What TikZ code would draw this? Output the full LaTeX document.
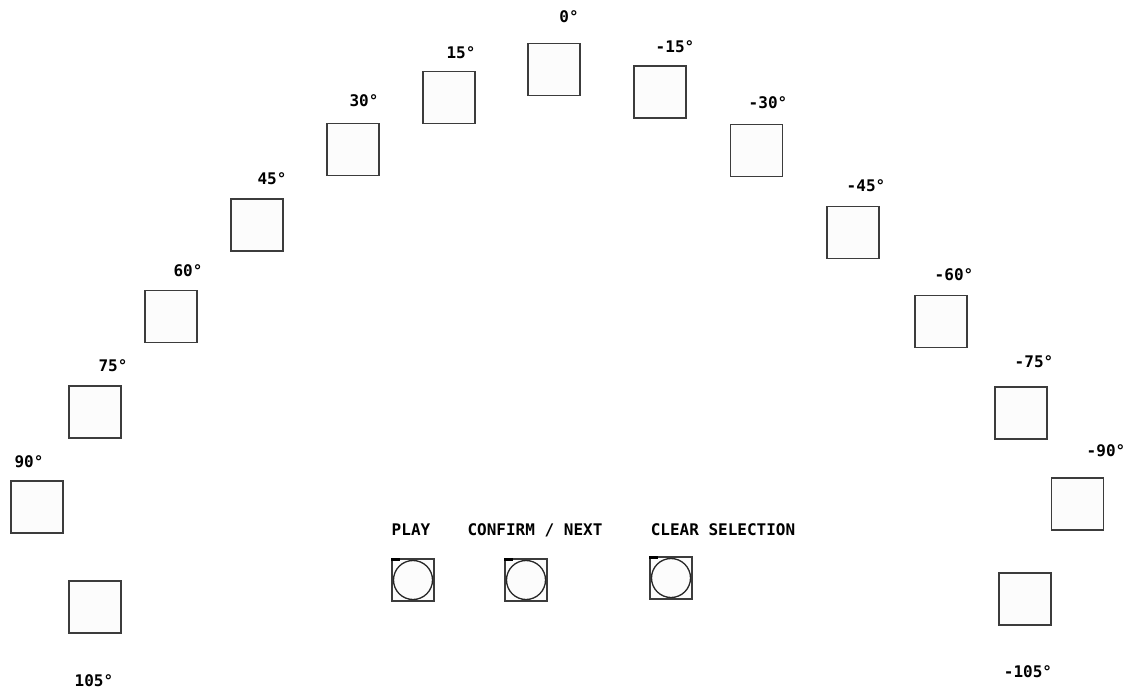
\documentclass[tikz,border=0pt]{standalone}
\usepackage{fontspec}
\setmonofont{DejaVu Sans Mono}
\usepackage{tikz}
\usetikzlibrary{positioning}
\definecolor{boxline}{RGB}{60,60,60}
\definecolor{boxfill}{RGB}{252,252,252}

\begin{document}
\begin{tikzpicture}[
  x=1pt,y=-1pt,
  spot/.style={rectangle,draw=boxline,fill=boxfill,line width=1.2pt,minimum size=52pt,inner sep=0pt},
  btn/.style={rectangle,draw=boxline,fill=boxfill,line width=1.2pt,minimum size=42pt,inner sep=0pt},
  tag/.style={font=\ttfamily\bfseries\fontsize{16}{18}\selectfont,inner sep=0pt}
]
  \useasboundingbox (0,0) rectangle (1132,695);

  % loudspeaker positions
  \node[spot] (a0)    at (554,69.5) {};
  \node[spot] (a15)   at (449,97.5) {};
  \node[spot] (am15)  at (660,92) {};
  \node[spot] (a30)   at (353,149.5) {};
  \node[spot] (am30)  at (756.5,150.5) {};
  \node[spot] (a45)   at (257,225) {};
  \node[spot] (am45)  at (853,232.5) {};
  \node[spot] (a60)   at (171,316.5) {};
  \node[spot] (am60)  at (941,321.5) {};
  \node[spot] (a75)   at (95,412) {};
  \node[spot] (am75)  at (1021,413) {};
  \node[spot] (a90)   at (37,507) {};
  \node[spot] (am90)  at (1077.5,504) {};
  \node[spot] (a105)  at (95,607) {};
  \node[spot] (am105) at (1025,599) {};

  % angle labels
  \node[tag] (l0)    at (569,17) {0°};
  \node[tag] (l15)   at (461,53) {15°};
  \node[tag] (lm15)  at (675,47) {-15°};
  \node[tag] (l30)   at (364,101) {30°};
  \node[tag] (lm30)  at (768,103) {-30°};
  \node[tag] (l45)   at (272,179) {45°};
  \node[tag] (lm45)  at (866,186) {-45°};
  \node[tag] (l60)   at (188,271) {60°};
  \node[tag] (lm60)  at (954,275) {-60°};
  \node[tag] (l75)   at (113,366) {75°};
  \node[tag] (lm75)  at (1034,362) {-75°};
  \node[tag] (l90)   at (29,462) {90°};
  \node[tag] (lm90)  at (1106,451) {-90°};
  \node[tag] (l105)  at (94,681) {105°};
  \node[tag] (lm105) at (1028,672) {-105°};

  % buttons
  \node[tag] (lplay)  at (411,530) {PLAY};
  \node[tag] (lnext)  at (535,530) {CONFIRM / NEXT};
  \node[tag] (lclear) at (723,530) {CLEAR SELECTION};
  \node[btn] (play)  at (413,580) {};
  \node[btn] (next)  at (526,580) {};
  \node[btn] (clear) at (671,578) {};
  \foreach \b in {play,next,clear}{
    \draw[black!85,line width=1.3pt] (\b.center) circle (19.5);
    \fill[black] (\b.north west) rectangle ++(9,3);
  }
\end{tikzpicture}
\end{document}
